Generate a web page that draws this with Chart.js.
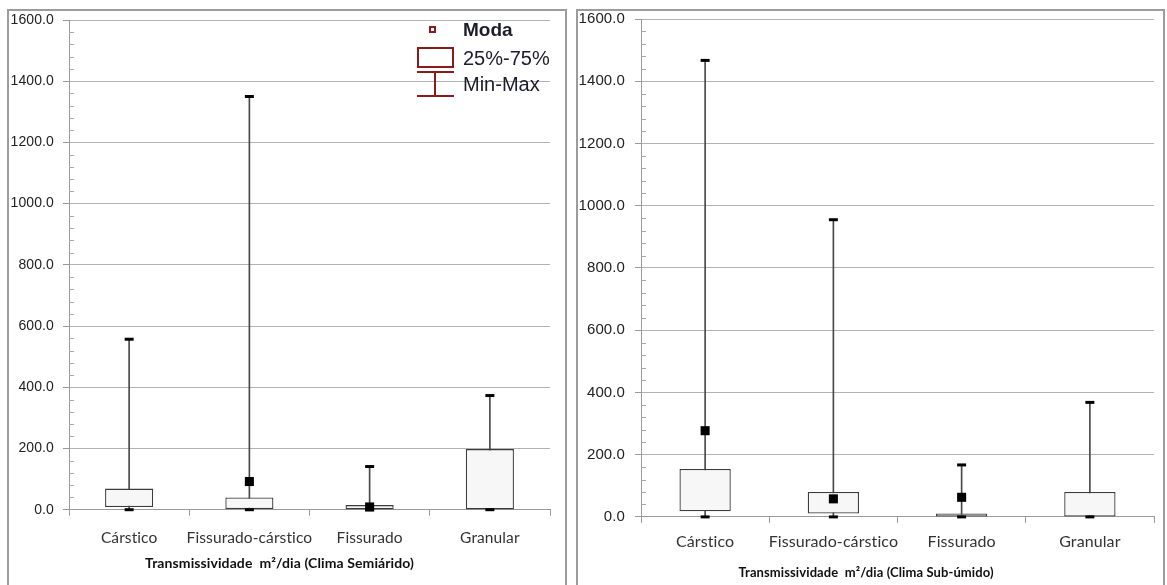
<!DOCTYPE html>
<html lang="pt">
<head>
<meta charset="utf-8">
<script src="https://cdn.jsdelivr.net/npm/chart.js@4.4.1/dist/chart.umd.min.js"></script>
<style>
  body { margin: 0; background: #fff; }
  #page { position: relative; width: 1167px; height: 585px; overflow: hidden; background: #fff; }
  .panel { position: absolute; top: 9px; height: 590px; border: 2px solid #9c9c9c; box-sizing: border-box; background: #fff; }
  .wrap { position: absolute; left: 0; top: 0; height: 572px; }
  #panelA { left: 7px; width: 560px; }
  #panelA .wrap { width: 556px; }
  #panelB { left: 576px; width: 589px; }
  #panelB .wrap { width: 585px; }
  .lg { position: absolute; font-family: 'Liberation Sans', Arial, sans-serif; font-size: 20px; line-height: 20px; color: #1c1c2c; white-space: nowrap; }
  .lgbox { position: absolute; border: 2px solid #8b1a1a; box-sizing: border-box; }
  .lgbar { position: absolute; background: #8b1a1a; }
</style>
</head>
<body>
<div id="page">
  <div class="panel" id="panelA"><div class="wrap"><canvas id="chartSemi"></canvas></div></div>
  <div class="panel" id="panelB"><div class="wrap"><canvas id="chartSub"></canvas></div></div>

  <!-- legenda -->
  <div class="lgbox" style="left:429px; top:26px; width:7px; height:7px;"></div>
  <div class="lg" style="left:463px; top:20px; font-weight:bold; font-size:19px;">Moda</div>
  <div class="lgbox" style="left:417px; top:47px; width:37px; height:21px;"></div>
  <div class="lg" style="left:463px; top:48px;">25%-75%</div>
  <div class="lgbar" style="left:417px; top:71px; width:37px; height:2px;"></div>
  <div class="lgbar" style="left:434px; top:72px; width:2px; height:24px;"></div>
  <div class="lgbar" style="left:417px; top:95px; width:37px; height:2px;"></div>
  <div class="lg" style="left:463px; top:74px;">Min-Max</div>
</div>

<script>
// categorias
const categories = ['Cárstico', 'Fissurado-cárstico', 'Fissurado', 'Granular'];

// Clima Semiárido
const semiMin  = [0, 0, 0, 0];
const semiQ1   = [9, 2, 1, 1];
const semiQ3   = [69, 40, 15, 198];
const semiMax  = [557, 1350, 141, 373];
const semiModa = [null, 92, 9, null];

// Clima Sub-úmido
const subMin  = [0, 0, 0, 0];
const subQ1   = [18, 11, 1, 1];
const subQ3   = [154, 80, 11, 80];
const subMax  = [1467, 955, 167, 368];
const subModa = [277, 58, 63, null];

// eixo y
const yMax = 1600;
const yMinorStep = 40;
const yMajorStep = 200;

// pequenos traços internos do eixo y (a cada 40)
const minorTicks = {
  id: 'minorTicks',
  beforeDraw(chart) {
    // espaçamento mínimo desliga a ligadura "st" do Lato
    chart.ctx.letterSpacing = '0.1px';
  },
  afterDraw(chart) {
    const y = chart.scales.y;
    const ctx = chart.ctx;
    const x0 = chart.chartArea.left;
    ctx.save();
    ctx.strokeStyle = '#a8a8a8';
    ctx.lineWidth = 1;
    y.ticks.forEach(t => {
      if (t.value % yMajorStep !== 0) {
        const py = Math.round(y.getPixelForValue(t.value)) + 0.5;
        ctx.beginPath();
        ctx.moveTo(x0, py);
        ctx.lineTo(x0 + 5, py);
        ctx.stroke();
      }
    });
    ctx.restore();
  }
};

function boxChart(id, s) {
  return new Chart(document.getElementById(id), {
    type: 'bar',
    data: {
      labels: categories,
      datasets: [
        {
          label: 'Min-Max',
          data: s.min.map((v, i) => [v, s.max[i]]),
          backgroundColor: '#4a4a4a',
          barThickness: 1,
          grouped: false,
          order: 4
        },
        {
          label: '25%-75%',
          data: s.q1.map((v, i) => [v, s.q3[i]]),
          backgroundColor: '#f7f7f7',
          borderColor: '#3c3c3c',
          borderWidth: 1.3,
          borderSkipped: false,
          grouped: false,
          categoryPercentage: 1,
          barPercentage: 0.4,
          order: 3
        },
        {
          type: 'line',
          label: 'Max',
          data: s.max,
          showLine: false,
          pointStyle: 'line',
          pointRadius: 4.5,
          pointBorderWidth: 3,
          pointBorderColor: '#000',
          clip: false,
          order: 2
        },
        {
          type: 'line',
          label: 'Min',
          data: s.min,
          showLine: false,
          pointStyle: 'line',
          pointRadius: 4.5,
          pointBorderWidth: 3,
          pointBorderColor: '#000',
          clip: false,
          order: 2
        },
        {
          type: 'line',
          label: 'Moda',
          data: s.moda,
          showLine: false,
          pointStyle: 'rect',
          pointRadius: 6.4,
          pointBackgroundColor: '#000',
          pointBorderWidth: 0,
          clip: false,
          order: 1
        }
      ]
    },
    options: {
      responsive: true,
      maintainAspectRatio: false,
      animation: false,
      layout: { padding: { top: s.padTop, right: s.padRight, left: 0, bottom: 0 } },
      plugins: {
        legend: { display: false },
        tooltip: { enabled: false },
        title: {
          display: true,
          position: 'bottom',
          text: s.title,
          color: '#111',
          font: { family: 'Lato', size: s.titleSize, weight: 'bold' },
          padding: { top: 4, bottom: s.titlePadBottom }
        }
      },
      scales: {
        x: {
          afterFit: sc => { sc.height = s.xHeight; },
          grid: { drawOnChartArea: false, offset: true, tickLength: 6, color: '#9a9a9a' },
          border: { color: '#9a9a9a', width: 1 },
          ticks: {
            color: '#333',
            padding: s.xPad,
            autoSkip: false,
            maxRotation: 0,
            minRotation: 0,
            font: { family: 'Lato', size: s.xFont }
          }
        },
        y: {
          min: 0,
          max: yMax,
          afterFit: sc => { sc.width = s.yWidth; sc.paddingTop = 0; sc.paddingBottom = 0; },
          border: { color: '#9a9a9a', width: 1 },
          grid: {
            tickLength: 6,
            color: c => (c.tick && c.tick.value % yMajorStep === 0 && c.tick.value !== 0) ? '#b2b2b2' : 'rgba(0,0,0,0)',
            tickColor: c => (c.tick && c.tick.value % yMajorStep === 0) ? '#9a9a9a' : 'rgba(0,0,0,0)'
          },
          ticks: {
            stepSize: yMinorStep,
            autoSkip: false,
            padding: s.yPad,
            color: '#222',
            font: { family: 'Liberation Sans', size: s.yFont },
            callback: v => (v % yMajorStep === 0 ? v.toFixed(1) : '')
          }
        }
      }
    },
    plugins: [minorTicks]
  });
}

boxChart('chartSemi', {
  min: semiMin, q1: semiQ1, q3: semiQ3, max: semiMax, moda: semiModa,
  title: 'Transmissividade  m²/dia (Clima Semiárido)',
  padTop: 9, padRight: 15, yWidth: 60, yPad: 9, yFont: 14,
  xHeight: 40.9, xPad: 12.5, xFont: 15.5,
  titleSize: 14, titlePadBottom: 11.6
});

boxChart('chartSub', {
  min: subMin, q1: subQ1, q3: subQ3, max: subMax, moda: subModa,
  title: 'Transmissividade  m²/dia (Clima Sub-úmido)',
  padTop: 8, padRight: 9, yWidth: 63, yPad: 10, yFont: 15,
  xHeight: 44.3, xPad: 9, xFont: 16,
  titleSize: 13, titlePadBottom: 2.2
});
</script>
</body>
</html>
